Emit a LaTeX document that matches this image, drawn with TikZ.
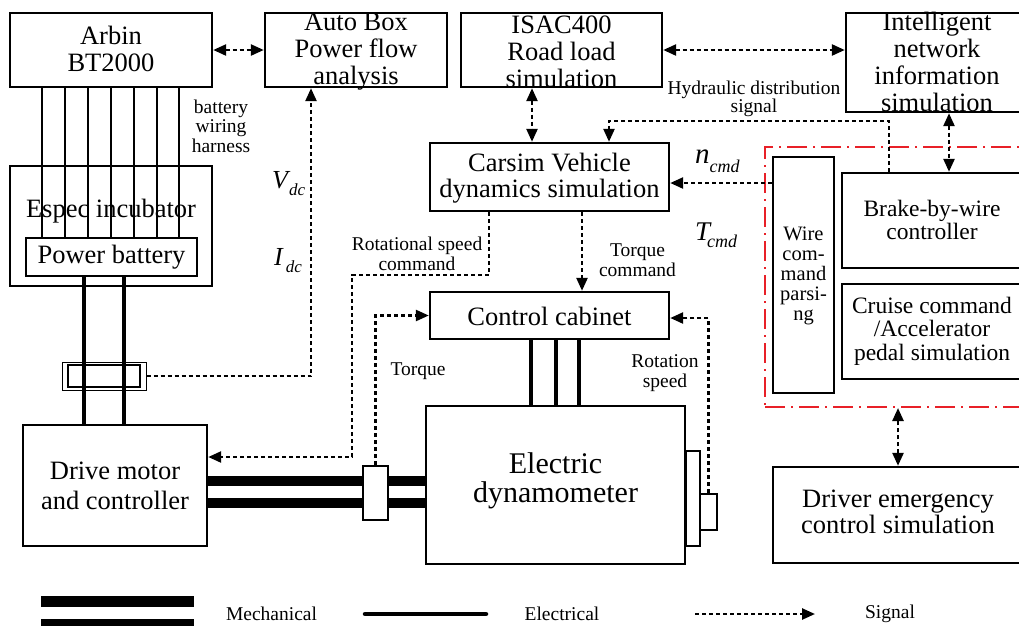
\documentclass[tikz,border=0pt]{standalone}
\usepackage{fontspec}
\setmainfont{Liberation Serif}
\usetikzlibrary{arrows.meta,calc}
\definecolor{regionred}{RGB}{232,32,40}
\begin{document}
\begin{tikzpicture}[x=1pt,y=-1pt,
  blk/.style 2 args={draw,line width=2.4pt,inner sep=0pt,minimum width=#1,minimum height=#2},
  lbl/.style={font=\fontsize{26.5}{27}\selectfont,align=center,inner sep=0pt},
  small/.style={font=\fontsize{19.5}{19.5}\selectfont,align=center,inner sep=0pt},
  sig/.style={line width=2.5pt,dash pattern=on 4pt off 3pt},
  arr/.style={-{Triangle[length=13pt,width=11pt]}},
  darr/.style={{Triangle[length=13pt,width=11pt]}-{Triangle[length=13pt,width=11pt]}},
  harness/.style={line width=1.4pt},
  elec/.style={line width=4.5pt},
  mech/.style={line width=10.5pt},
]
\useasboundingbox (0,0) rectangle (1019,625);

% ---- test bench blocks ----
\node[blk={202pt}{74pt}] (arbin) at (111,50) {};
\node[lbl] (arbinT) at (111,49) {Arbin\\BT2000};
\node[blk={182pt}{74pt}] (autobox) at (356,50) {};
\node[lbl] (autoboxT) at (356,52) {Auto Box\\Power flow\\analysis};
\node[blk={201pt}{74pt}] (isac) at (561.5,50) {};
\node[lbl] (isacT) at (561.5,52) {ISAC400\\Road load\\simulation};
\node[blk={182pt}{99pt}] (intel) at (937,62.5) {};
\node[lbl] (intelT) at (937,62) {Intelligent\\network\\information\\simulation};
\node[blk={239pt}{68pt}] (carsim) at (549.5,177) {};
\node[lbl,font=\fontsize{26.5}{26}\selectfont] (carsimT) at (549.5,178) {Carsim Vehicle\\dynamics simulation};
\node[blk={239pt}{47pt}] (cabinet) at (549.5,315.5) {};
\node[lbl] (cabinetT) at (549.5,316) {Control cabinet};
\node[blk={202pt}{120pt}] (espec) at (111,226) {};
\node[lbl] (specT) at (111,211) {Espec incubator};
\node[blk={171pt}{38pt}] (battery) at (111.5,257) {};
\node[lbl] (batteryT) at (111.5,257) {Power battery};

% current sensor on the DC bus
\node[draw,line width=1pt,inner sep=0pt,minimum width=84pt,minimum height=28pt] (sensO) at (104,376) {};
\node[draw,line width=2.4pt,inner sep=0pt,minimum width=72pt,minimum height=22pt] (sensI) at (104,376) {};

\node[blk={184pt}{121pt}] (motor) at (115,485.5) {};
\node[lbl,font=\fontsize{26.5}{30}\selectfont] (motorT) at (115,486) {Drive motor\\and controller};
\node[blk={259pt}{158pt}] (dyno) at (555.5,485) {};
\node[lbl,font=\fontsize{30}{29.5}\selectfont] (dynoT) at (555.5,481) {Electric\\dynamometer};
\node[blk={14pt}{95pt}] (flange) at (693,498.5) {};
\node[blk={17pt}{36pt}] (encoder) at (708.5,512) {};

% ---- vehicle-in-the-loop side ----
\node[draw=regionred,line width=2pt,dash pattern=on 20pt off 6pt on 2pt off 6pt,
      inner sep=0pt,minimum width=265pt,minimum height=260pt] (region) at (897.5,277) {};
\node[blk={61pt}{236pt}] (wire) at (803.5,275) {};
\node[lbl,font=\fontsize{20.5}{20}\selectfont] (wireT) at (803.5,276) {Wire\\com-\\mand\\parsi-\\ng};
\node[blk={180pt}{95pt}] (brake) at (932,220.5) {};
\node[lbl,font=\fontsize{23.5}{23}\selectfont] (brakeT) at (932,220) {Brake-by-wire\\controller};
\node[blk={180pt}{95pt}] (cruise) at (932,331.5) {};
\node[lbl,font=\fontsize{23.5}{23.5}\selectfont] (cruiseT) at (932,331) {Cruise command\\/Accelerator\\pedal simulation};
\node[blk={250pt}{96pt}] (driver) at (898,515) {};
\node[lbl,font=\fontsize{26.5}{25.5}\selectfont] (driverT) at (898,512) {Driver emergency\\control simulation};

% ---- wiring ----
\foreach \x in {42,65,88,111,134,157,179}
  \draw[harness] (\x,0 |- arbin.south) -- (\x,0 |- battery.north);
\foreach \x in {84,124}
  \draw[elec] (\x,0 |- battery.south) -- (\x,0 |- motor.north);
\foreach \x in {531,556,579}
  \draw[elec] (\x,0 |- cabinet.south) -- (\x,0 |- dyno.north);
\foreach \y in {481,503}
  \draw[mech] (motor.east |- 0,\y) -- (dyno.west |- 0,\y);
\node[blk={25pt}{54pt},fill=white] (coupling) at (375.5,493) {};

% ---- signals ----
\draw[sig,darr] (arbin.east) -- (autobox.west);
\draw[sig,arr] (sensO.east) -| (311,0 |- autobox.south);
\draw[sig,darr] (isac.east) -- (isac.east -| intel.west);
\draw[sig,darr] (532,0 |- isac.south) -- (532,0 |- carsim.north);
\coordinate (hyd) at (889,121);
\draw[sig,arr] (hyd |- brake.north) -- (hyd) -| (609,0 |- carsim.north);
\draw[sig,darr] (949,0 |- intel.south) -- (949,0 |- brake.north);
\coordinate (ncmd) at (750,183);
\draw[sig,arr] (ncmd -| wire.west) -- (ncmd -| carsim.east);
\draw[sig,arr] (582,0 |- carsim.south) -- (582,0 |- cabinet.north);
\coordinate (rsA) at (489,275);
\coordinate (rsB) at (352,457);
\draw[sig,arr] (rsA |- carsim.south) -- (rsA) -| (rsB) -- (rsB -| motor.east);
\draw[sig,arr] (coupling.north) |- (cabinet.west);
\draw[sig,arr] (encoder.north) |- ([yshift=-2.5pt]cabinet.east);
\draw[sig,darr] (driver.north) -- (driver.north |- region.south);

% ---- labels ----
\node[small] (harnessT) at (221,126) {battery\\wiring\\harness};
\node[small,font=\fontsize{19.5}{18.5}\selectfont] (hydT) at (754,99) {Hydraulic distribution\\signal};
\node[small] (rscT) at (417,254) {Rotational speed\\command};
\node[small] (tcT) at (637.5,260) {Torque\\command};
\node[small] (tqT) at (418,371) {Torque};
\node[small] (rsT) at (665,373) {Rotation\\speed};
\node[anchor=base west,inner sep=0pt] (vdc) at (272,188)
  {\fontsize{26}{26}\selectfont\itshape V\kern1pt\raisebox{-7pt}{\fontsize{17}{17}\selectfont dc}};
\node[anchor=base west,inner sep=0pt] (idc) at (274,265)
  {\fontsize{26}{26}\selectfont\itshape I\kern3pt\raisebox{-7pt}{\fontsize{17}{17}\selectfont dc}};
\node[anchor=base west,inner sep=0pt] (ncmdT) at (695,163)
  {\fontsize{29}{29}\selectfont\itshape n\raisebox{-9pt}{\fontsize{18}{18}\selectfont cmd}};
\node[anchor=base west,inner sep=0pt] (tcmdT) at (695,240)
  {\fontsize{27}{27}\selectfont\itshape T\kern-3pt\raisebox{-7pt}{\fontsize{18}{18}\selectfont cmd}};

% ---- legend ----
\coordinate (mA) at (41,601.5);  \coordinate (mB) at (194,601.5);
\coordinate (mC) at (41,624.5);  \coordinate (mD) at (194,624.5);
\draw[mech] (mA) -- (mB);
\draw[mech] (mC) -- (mD);
\node[small] (legMech) at (271.5,614) {Mechanical};
\coordinate (eA) at (365,614); \coordinate (eB) at (486,614);
\draw[elec,line cap=round] (eA) -- (eB);
\node[small] (legElec) at (562,614) {Electrical};
\coordinate (sA) at (695,614); \coordinate (sB) at (815,614);
\draw[sig,arr] (sA) -- (sB);
\node[small] (legSig) at (890,614) {Signal};
\end{tikzpicture}
\end{document}
